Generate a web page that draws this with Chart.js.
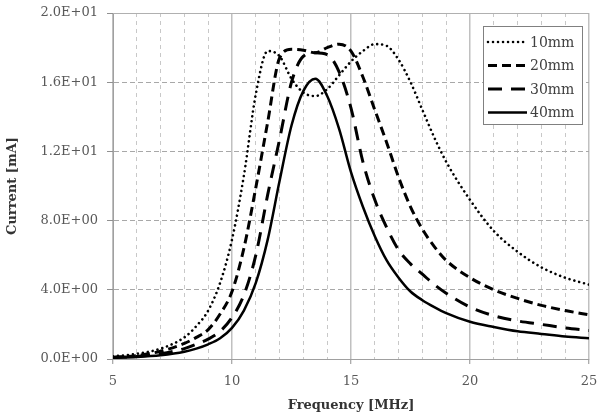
<!DOCTYPE html>
<html><head><meta charset="utf-8">
<script src="https://cdn.jsdelivr.net/npm/chart.js@4/dist/chart.umd.min.js"></script>
<style>html,body{margin:0;padding:0;background:#fff}#wrap{width:599px;height:420px}</style>
</head><body><div id="wrap"><canvas id="c" width="599" height="420"></canvas></div>
<script>
const freqs = [5,6,7,8,8.5,9,9.5,10,10.5,11,11.5,12,12.5,13,13.5,14,14.5,15,15.5,16,16.5,17,17.5,18,18.5,19,20,21,22,23,24,25];
const s10mm = [0.15,0.3,0.6,1.25,1.9,2.8,4.4,6.9,10.6,15.3,17.8,17.5,16.2,15.4,15.2,15.6,16.4,17.2,17.8,18.2,18.1,17.3,16.0,14.4,12.8,11.4,9.2,7.4,6.2,5.3,4.7,4.3];
const s20mm = [0.1,0.2,0.45,0.9,1.25,1.7,2.6,3.9,6.4,9.9,13.7,17.4,17.9,17.85,17.7,18.0,18.2,17.8,16.3,14.4,12.5,10.5,8.8,7.5,6.5,5.7,4.7,4.0,3.5,3.1,2.8,2.55];
const s30mm = [0.08,0.15,0.3,0.6,0.85,1.15,1.6,2.4,3.7,6.0,9.5,12.7,16.0,17.5,17.7,17.6,16.6,14.5,11.4,9.2,7.6,6.3,5.5,4.9,4.3,3.8,3.0,2.5,2.2,2.0,1.8,1.65];
const s40mm = [0.07,0.12,0.22,0.42,0.6,0.85,1.2,1.8,2.8,4.4,6.9,10.3,13.5,15.5,16.2,15.2,13.3,10.8,8.8,7.1,5.7,4.7,3.9,3.4,3.0,2.65,2.15,1.85,1.6,1.45,1.3,1.2];
const seriesLabels = ['10mm','20mm','30mm','40mm'];
const yTickLabels = ['0.0E+00','4.0E+00','8.0E+00','1.2E+01','1.6E+01','2.0E+01'];

const toPts = arr => arr.map((v,i)=>({x:freqs[i], y:v}));
const styles = [
  {borderDash:[0.01,5], borderWidth:2.6, cap:'round'},
  {borderDash:[9,5], borderWidth:3, cap:'butt'},
  {borderDash:[14,9], borderWidth:3, cap:'butt'},
  {borderDash:[], borderWidth:2.5, cap:'butt'}
];
const allSeries = [s10mm,s20mm,s30mm,s40mm];
const datasets = allSeries.map((arr,i)=>({
  label: seriesLabels[i], data: toPts(arr), borderColor:'#000', backgroundColor:'#000',
  borderWidth: styles[i].borderWidth, borderDash: styles[i].borderDash, borderCapStyle: styles[i].cap,
  pointRadius:0, cubicInterpolationMode:'monotone', fill:false
}));

const serif = "'DejaVu Serif', serif";

const framePlugin = {
  id:'frame',
  beforeDatasetsDraw(chart){
    const {ctx, chartArea:a} = chart;
    ctx.save(); ctx.strokeStyle='#b0b0b0'; ctx.lineWidth=1;
    ctx.beginPath(); ctx.moveTo(a.left, a.top+0.5); ctx.lineTo(a.right, a.top+0.5); ctx.stroke();
    ctx.restore();
  }
};
const legendPlugin = {
  id:'boxLegend',
  afterDraw(chart){
    const {ctx, chartArea:a} = chart;
    const bx = a.right - 106, by = a.top + 13, bw = 99, bh = 98;
    ctx.save();
    ctx.fillStyle='#fff'; ctx.fillRect(bx,by,bw,bh);
    ctx.strokeStyle='#808080'; ctx.lineWidth=1; ctx.strokeRect(bx+0.5,by+0.5,bw,bh);
    chart.data.datasets.forEach((ds,i)=>{
      const yy = by + 16 + i*23.5;
      ctx.beginPath(); ctx.setLineDash(ds.borderDash); ctx.lineWidth = ds.borderWidth; ctx.lineCap = ds.borderCapStyle; ctx.strokeStyle='#000';
      ctx.moveTo(bx+5, yy); ctx.lineTo(bx+44, yy); ctx.stroke();
      ctx.setLineDash([]);
      ctx.fillStyle='#404040'; ctx.font = "14px " + serif; ctx.textBaseline='middle'; ctx.textAlign='left';
      ctx.fillText(ds.label, bx+47, yy+1);
    });
    ctx.restore();
  }
};

new Chart(document.getElementById('c'), {
  type:'line',
  data:{datasets},
  options:{
    responsive:false, animation:false, devicePixelRatio:1,
    layout:{padding:{left:0,right:10,top:13,bottom:0}},
    plugins:{legend:{display:false}, tooltip:{enabled:false}},
    scales:{
      x:{type:'linear', position:'bottom', min:5, max:25,
        afterFit(s){ s.height = 61; s.paddingLeft = 0; s.paddingRight = 0; },
        ticks:{stepSize:5, color:'#595959', font:{family:serif, size:13}, padding:10, maxRotation:0},
        grid:{color:'#c0c0c0', lineWidth:1.5, tickLength:5, tickColor:'#909090', tickWidth:1},
        border:{color:'#a0a0a0', width:1},
        title:{display:true, text:'Frequency [MHz]', color:'#333', font:{family:serif, size:13, weight:'bold'}, padding:{top:0,bottom:7}}
      },
      xm:{type:'linear', position:'bottom', min:5, max:25,
        afterFit(s){ s.height = 0; s.paddingLeft = 0; s.paddingRight = 0; },
        ticks:{display:false, stepSize:1},
        grid:{drawTicks:false, color:(c)=> (c.tick && c.tick.value % 5 === 0) ? 'rgba(0,0,0,0)' : '#c8c8c8', lineWidth:1},
        border:{display:false, dash:[4,4]}
      },
      y:{type:'linear', min:0, max:20,
        afterFit(s){ s.width = 113; s.paddingTop = 0; s.paddingBottom = 0; },
        ticks:{stepSize:4, color:'#595959', font:{family:serif, size:13}, padding:9,
          callback:(v)=> yTickLabels[Math.round(v/4)]},
        grid:{color:(c)=> (c.tick && (c.tick.value===0 || c.tick.value===20)) ? 'rgba(0,0,0,0)' : '#a8a8a8', lineWidth:1, tickLength:6, tickColor:'#909090', tickBorderDash:[]},
        border:{color:'#a0a0a0', width:1, dash:[5,3]},
        title:{display:true, text:'Current [mA]', color:'#333', font:{family:serif, size:13, weight:'bold'}, padding:{top:5,bottom:0}}
      }
    }
  },
  plugins:[framePlugin, legendPlugin]
});
</script></body></html>
